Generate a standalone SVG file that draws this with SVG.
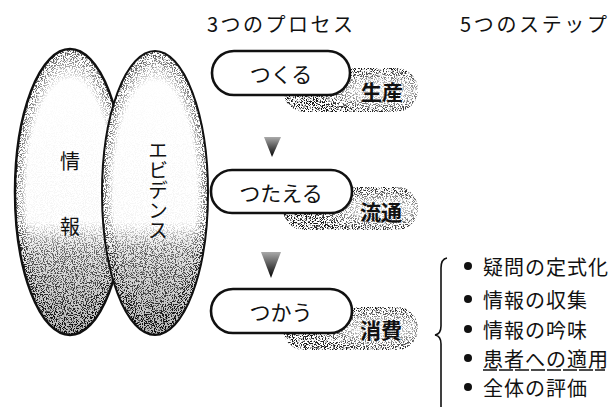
<svg xmlns="http://www.w3.org/2000/svg" width="615" height="407" viewBox="0 0 615 407">
<style>
text{font-family:"Noto Sans CJK JP","Noto Sans",sans-serif;fill:#111;}
.title{font-size:20px;}
.pilltxt{font-size:21px;text-anchor:middle;dominant-baseline:central;}
.blobtxt{font-size:21px;font-weight:bold;text-anchor:middle;dominant-baseline:central;}
.ell{font-size:20px;text-anchor:middle;dominant-baseline:central;}
.vert{font-size:20px;writing-mode:vertical-rl;}
.item{font-size:20px;dominant-baseline:central;letter-spacing:1px;}
.pill{fill:#fff;stroke:#111;stroke-width:2.6;}
</style>
<defs>
<filter id="stip" x="0" y="0" width="100%" height="100%">
<feTurbulence type="fractalNoise" baseFrequency="0.9" numOctaves="2" seed="4" result="n"/>
<feColorMatrix in="n" type="matrix" values="0 0 0 0 0  0 0 0 0 0  0 0 0 0 0  -9 0 0 0 4.6" result="d"/>
<feComposite in="d" in2="SourceAlpha" operator="in"/>
</filter>
<linearGradient id="ellFill" x1="0" y1="0" x2="0" y2="1">
<stop offset="0" stop-color="#fff"/>
<stop offset="0.62" stop-color="#fff"/>
<stop offset="0.72" stop-color="#e2e2e2"/>
<stop offset="1" stop-color="#b8b8b8"/>
</linearGradient>
<linearGradient id="ellDots" x1="0" y1="0" x2="0" y2="1">
<stop offset="0" stop-color="#000" stop-opacity="0"/>
<stop offset="0.6" stop-color="#000" stop-opacity="0.04"/>
<stop offset="0.7" stop-color="#000" stop-opacity="0.55"/>
<stop offset="1" stop-color="#000" stop-opacity="0.9"/>
</linearGradient>
<radialGradient id="ellEdge" cx="0.5" cy="0.5" r="0.5">
<stop offset="0.78" stop-color="#000" stop-opacity="0"/>
<stop offset="1" stop-color="#000" stop-opacity="0.75"/>
</radialGradient>
<radialGradient id="blobDots" cx="0.72" cy="0.52" r="0.5">
<stop offset="0" stop-color="#000" stop-opacity="0.12"/>
<stop offset="0.4" stop-color="#000" stop-opacity="0.3"/>
<stop offset="1" stop-color="#000" stop-opacity="0.9"/>
</radialGradient>
<linearGradient id="arrowFill" x1="0" y1="0" x2="0" y2="1">
<stop offset="0" stop-color="#aaa"/>
<stop offset="0.5" stop-color="#555"/>
<stop offset="1" stop-color="#000"/>
</linearGradient>
</defs>
<rect width="615" height="407" fill="#fff"/>

<g id="node-jouhou">
<ellipse cx="70" cy="192" rx="55" ry="143" fill="url(#ellFill)"/>
<ellipse cx="70" cy="192" rx="55" ry="143" fill="url(#ellDots)" style="filter:url(#stip)"/>
<ellipse cx="70" cy="192" rx="55" ry="143" fill="url(#ellEdge)" style="filter:url(#stip)"/>
<ellipse cx="70" cy="192" rx="55" ry="143" fill="none" stroke="#111" stroke-width="2.5"/>
<text class="ell" x="70" y="160">情</text>
<text class="ell" x="70" y="225">報</text>
</g>

<g id="node-evidence">
<ellipse cx="155" cy="193" rx="53" ry="142" fill="url(#ellFill)"/>
<ellipse cx="155" cy="193" rx="53" ry="142" fill="url(#ellDots)" style="filter:url(#stip)"/>
<ellipse cx="155" cy="193" rx="53" ry="142" fill="url(#ellEdge)" style="filter:url(#stip)"/>
<ellipse cx="155" cy="193" rx="53" ry="142" fill="none" stroke="#111" stroke-width="2"/>
<text class="vert" x="158" y="140">エビデンス</text>
</g>

<g id="titles">
<text class="title" x="207" y="32" textLength="146" lengthAdjust="spacing">3つのプロセス</text>
<text class="title" x="460" y="32" textLength="147" lengthAdjust="spacing">5つのステップ</text>
</g>

<g id="node-tsukuru">
<rect x="283" y="68" width="135" height="44" rx="22" fill="url(#blobDots)" style="filter:url(#stip)"/>
<rect class="pill" x="212" y="51" width="138" height="44" rx="22"/>
<text class="pilltxt" x="281" y="73">つくる</text>
<text class="blobtxt" x="382" y="91">生産</text>
</g>

<g id="node-tsutaeru">
<rect x="283" y="187" width="135" height="43" rx="21" fill="url(#blobDots)" style="filter:url(#stip)"/>
<rect class="pill" x="211" y="170" width="141" height="43" rx="21"/>
<text class="pilltxt" x="281" y="192">つたえる</text>
<text class="blobtxt" x="381" y="211">流通</text>
</g>

<g id="node-tsukau">
<rect x="283" y="307" width="135" height="43" rx="21" fill="url(#blobDots)" style="filter:url(#stip)"/>
<rect class="pill" x="211" y="289" width="141" height="44" rx="22"/>
<text class="pilltxt" x="281" y="311">つかう</text>
<text class="blobtxt" x="381" y="329">消費</text>
</g>

<g id="connectors">
<polygon points="264,137 281,137 272,157" fill="url(#arrowFill)"/>
<polygon points="261,252 281,252 271,278" fill="url(#arrowFill)"/>
</g>

<g id="steps">
<path d="M447,258 Q441,259 441,268 L441,326 Q441,334 435,335 Q441,336 441,344 L441,407" fill="none" stroke="#111" stroke-width="1.6"/>
<circle cx="468" cy="266" r="4" fill="#111"/>
<circle cx="468" cy="299" r="4" fill="#111"/>
<circle cx="468" cy="329" r="4" fill="#111"/>
<circle cx="468" cy="358" r="4" fill="#111"/>
<circle cx="468" cy="387" r="4" fill="#111"/>
<text class="item" x="483" y="266">疑問の定式化</text>
<text class="item" x="483" y="299">情報の収集</text>
<text class="item" x="483" y="329">情報の吟味</text>
<text class="item" x="483" y="358">患者への適用</text>
<text class="item" x="483" y="387">全体の評価</text>
<line x1="483" y1="370" x2="605" y2="370" stroke="#111" stroke-width="1.4" stroke-dasharray="14,2"/>
</g>
</svg>
